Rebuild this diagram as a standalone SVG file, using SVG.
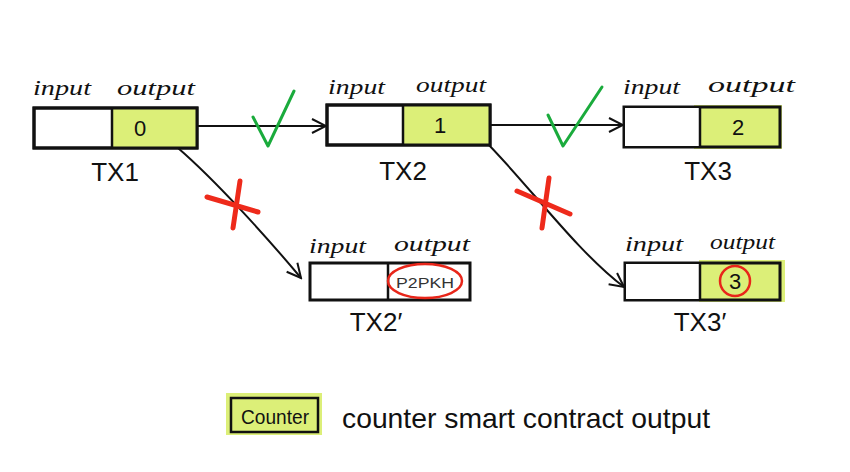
<svg xmlns="http://www.w3.org/2000/svg" width="850" height="472" viewBox="0 0 850 472">
<defs>
<style>
.box{fill:#ffffff;stroke:#111;stroke-width:3}
.fill{fill:#dcef78;stroke:none}
.ln{stroke:#111;stroke-width:2.5;fill:none}
.conn{stroke:#111;stroke-width:2;fill:none}
.lbl{font-family:"Liberation Serif",serif;font-style:italic;font-size:21px;fill:#111}
.tx{font-family:"Liberation Sans",sans-serif;font-size:26px;fill:#111}
.val{font-family:"Liberation Sans",sans-serif;font-size:22px;fill:#111}
.chk{stroke:#1aab3c;stroke-width:3;fill:none;stroke-linecap:round;stroke-linejoin:round}
.x{stroke:#ee2a1b;stroke-width:5;fill:none;stroke-linecap:round}
.ring{stroke:#e8261a;stroke-width:2.5;fill:none}
</style>
<marker id="ah" viewBox="0 0 20 20" refX="18" refY="10" markerWidth="20" markerHeight="20" markerUnits="userSpaceOnUse" orient="auto">
<path d="M4,3 L18,10 L4,17" fill="none" stroke="#111" stroke-width="2"/>
</marker>
</defs>
<rect width="850" height="472" fill="#ffffff"/>
<g id="connectors">
<path class="conn" d="M197,126 L326,126" marker-end="url(#ah)"/>
<path class="conn" d="M490,125 L623,125" marker-end="url(#ah)"/>
<path class="conn" d="M178,148 C215,180 265,235 301,278" marker-end="url(#ah)"/>
<path class="conn" d="M481,137 C525,180 575,250 624,287" marker-end="url(#ah)"/>
<polyline class="chk" points="253,117 268,146 294,91"/>
<polyline class="chk" points="548,115 563,146 602,87"/>
<path class="x" d="M207,197 L258,212 M240,181 L233,228"/>
<path class="x" d="M517,191 L570,214 M549,178 L542,228"/>
</g>
<g id="tx1">
<rect class="box" x="34" y="108" width="163" height="40"/>
<rect class="fill" x="112" y="109" width="84" height="38"/>
<rect x="34" y="108" width="163" height="40" fill="none" stroke="#111" stroke-width="3"/>
<line class="ln" x1="112" y1="108" x2="112" y2="148"/>
<text class="lbl" x="33" y="95" textLength="58" lengthAdjust="spacingAndGlyphs">input</text>
<text class="lbl" x="117" y="95" textLength="78" lengthAdjust="spacingAndGlyphs">output</text>
<text class="val" x="140" y="136" text-anchor="middle">0</text>
<text class="tx" x="115" y="181" text-anchor="middle">TX1</text>
</g>
<g id="tx2">
<rect class="box" x="327" y="105" width="163" height="40"/>
<rect class="fill" x="403" y="106" width="86" height="38"/>
<rect x="327" y="105" width="163" height="40" fill="none" stroke="#111" stroke-width="3"/>
<line class="ln" x1="403" y1="105" x2="403" y2="145"/>
<text class="lbl" x="328" y="94" textLength="57" lengthAdjust="spacingAndGlyphs">input</text>
<text class="lbl" x="416" y="92" textLength="70" lengthAdjust="spacingAndGlyphs">output</text>
<text class="val" x="440" y="133" text-anchor="middle">1</text>
<text class="tx" x="403" y="180" text-anchor="middle">TX2</text>
</g>
<g id="tx3">
<rect class="fill" x="694" y="105" width="88" height="44"/>
<rect x="624" y="107" width="156" height="40" fill="none" stroke="#111" stroke-width="3"/>
<rect x="625" y="108" width="74" height="38" fill="#fff"/>
<line class="ln" x1="700" y1="107" x2="700" y2="147"/>
<text class="lbl" x="623" y="94" textLength="57" lengthAdjust="spacingAndGlyphs">input</text>
<text class="lbl" x="708" y="92" textLength="87" lengthAdjust="spacingAndGlyphs">output</text>
<text class="val" x="738" y="135" text-anchor="middle">2</text>
<text class="tx" x="708" y="180" text-anchor="middle">TX3</text>
</g>
<g id="tx2p">
<rect class="box" x="310" y="263" width="160" height="37"/>
<line class="ln" x1="388" y1="263" x2="388" y2="300"/>
<text class="lbl" x="309" y="253" textLength="57" lengthAdjust="spacingAndGlyphs">input</text>
<text class="lbl" x="394" y="251" textLength="76" lengthAdjust="spacingAndGlyphs">output</text>
<text x="425" y="288" text-anchor="middle" font-family="Liberation Sans,sans-serif" font-size="15" fill="#333" textLength="58" lengthAdjust="spacingAndGlyphs">P2PKH</text>
<ellipse class="ring" cx="425" cy="281" rx="37" ry="17"/>
<text class="tx" x="376" y="331" text-anchor="middle">TX2′</text>
</g>
<g id="tx3p">
<rect class="fill" x="699" y="260" width="86" height="42"/>
<rect x="625" y="263" width="155" height="37" fill="none" stroke="#111" stroke-width="3"/>
<rect x="626" y="264" width="73" height="35" fill="#fff"/>
<line class="ln" x1="700" y1="263" x2="700" y2="300"/>
<text class="lbl" x="625" y="251" textLength="58" lengthAdjust="spacingAndGlyphs">input</text>
<text class="lbl" x="710" y="249" textLength="65" lengthAdjust="spacingAndGlyphs">output</text>
<text class="val" x="735" y="289" text-anchor="middle">3</text>
<circle class="ring" cx="735" cy="281" r="15"/>
<text class="tx" x="700" y="331" text-anchor="middle">TX3′</text>
</g>
<g id="legend">
<rect class="fill" x="226" y="393" width="96" height="42"/>
<rect x="231" y="398" width="87" height="34" fill="none" stroke="#111" stroke-width="2.5"/>
<text x="241" y="424" font-family="Liberation Sans,sans-serif" font-size="21" fill="#111" textLength="68" lengthAdjust="spacingAndGlyphs">Counter</text>
<text x="342" y="428" font-family="Liberation Sans,sans-serif" font-size="28" fill="#111" textLength="368" lengthAdjust="spacingAndGlyphs">counter smart contract output</text>
</g>
</svg>
